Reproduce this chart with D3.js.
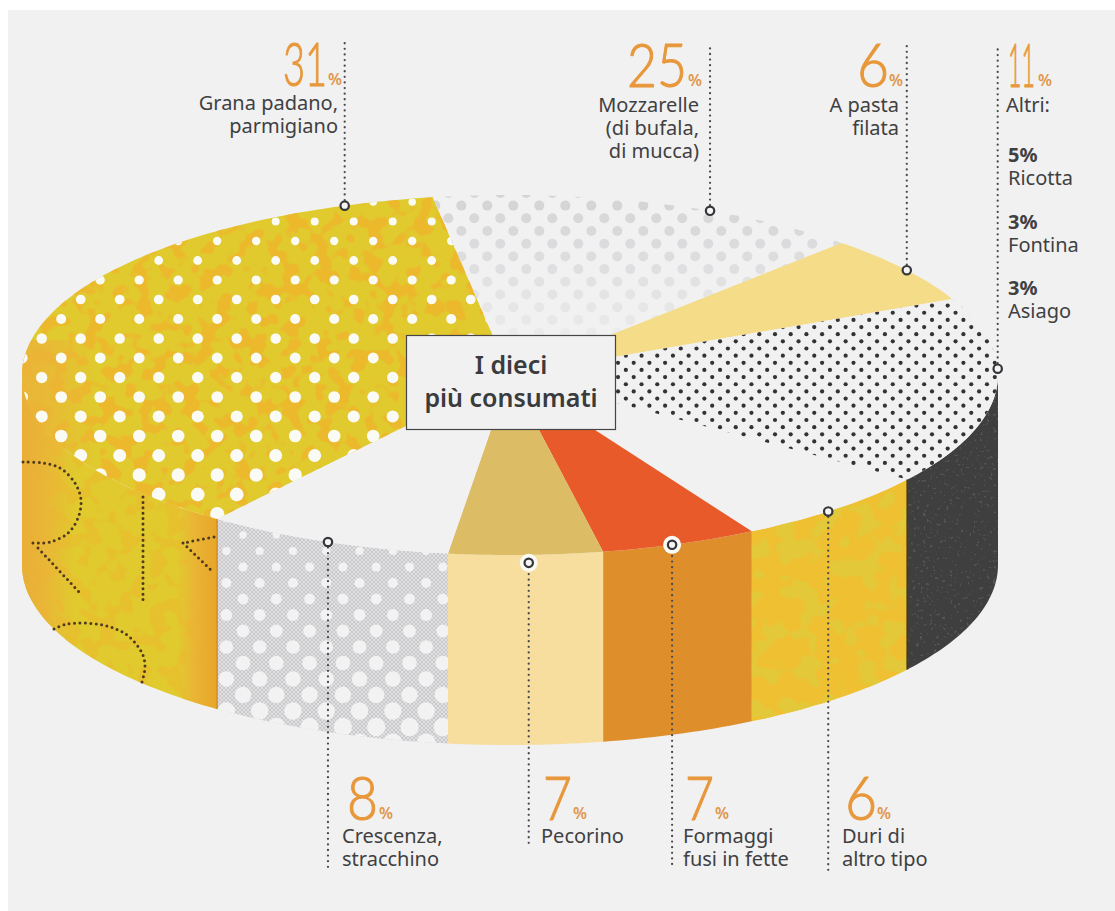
<!DOCTYPE html>
<html><head><meta charset="utf-8">
<script src="https://cdn.jsdelivr.net/npm/d3@7/dist/d3.min.js"></script>
<style>html,body{margin:0;padding:0;background:#fff;overflow:hidden}svg{display:block}
text{font-family:"Noto Sans",sans-serif}</style></head><body><div id="c"></div>
<script>
// ---------- data ----------
const categories = ["Grana padano, parmigiano","Mozzarelle (di bufala, di mucca)","A pasta filata","Altri","Duri di altro tipo","Formaggi fusi in fette","Pecorino","Crescenza, stracchino"];
const shares = [31,25,6,11,6,7,7,8];
const otherNames = ["Ricotta","Fontina","Asiago"];
const otherShares = [5,3,3];
const centreTitle = ["I dieci","più consumati"];
const labelLines = [["Grana padano,","parmigiano"],["Mozzarelle","(di bufala,","di mucca)"],["A pasta","filata"],["Altri:"],["Duri di","altro tipo"],["Formaggi","fusi in fette"],["Pecorino"],["Crescenza,","stracchino"]];

// ---------- layout ----------
const W=1115,H=911, cx=510, cy=375, rx=488, ry=180, depth=190;
// the drawing is not to scale: rim position (degrees clockwise from the back) of each slice boundary
const rimBoundaries=[216.9,350.9,402.8,425,485.5,510.3,529,547.3,576.9];
const topFill=["#e0ca2e","#f1f1f1","#f5dc88","#f1f1f1","#f1f1f1","#e85a2a","#dcbd66","#f1f1f1"];
const sideFill=["#e0ca2e",null,null,"#403f3f","#efc132","#de8f2c","#f7dd9e","url(#greyStipple)"];
// leader: rim angle of the ring marker, y-end of the dotted line, label placement
const leaders=[
 {a:340.2,end:43, num:{x:283,w:44,y:86},pct:328,lines:{anchor:"end",x:338,y:110}},
 {a:384.2,end:45, num:{x:627,w:60,y:87},pct:688,lines:{anchor:"end",x:699,y:112}},
 {a:414.4,end:45, num:{x:857,w:32,y:87},pct:889,lines:{anchor:"end",x:899,y:112}},
 {a:448,  end:45, num:{x:1008,w:27,y:87},pct:1038,lines:{anchor:"start",x:1006,y:112}},
 {a:499.3,end:871,num:{x:845,w:32,y:820},pct:877,lines:{anchor:"start",x:842,y:843}},
 {a:520.6,end:868,num:{x:685,w:29,y:820},pct:715,lines:{anchor:"start",x:683,y:843}},
 {a:537.8,end:845,num:{x:543,w:29,y:820},pct:573,lines:{anchor:"start",x:541,y:843},dy:8,halo:1},
 {a:561.9,end:868,num:{x:347,w:31,y:820},pct:379,lines:{anchor:"start",x:342,y:843}}
];
leaders[5].halo=1;

const svg=d3.select("#c").append("svg").attr("width",W).attr("height",H);
svg.append("rect").attr("width",W).attr("height",H).attr("fill","#fff");
svg.append("rect").attr("x",8).attr("y",10).attr("width",W-8).attr("height",H-10).attr("fill","#f1f1f1");

const defs=svg.append("defs");
const mot=(id,seed,col,freq,lo,thr)=>{const f=defs.append("filter").attr("id",id).attr("x",0).attr("y",0).attr("width","100%").attr("height","100%").attr("color-interpolation-filters","sRGB");
 f.append("feTurbulence").attr("type","fractalNoise").attr("baseFrequency",freq).attr("numOctaves",2).attr("seed",seed).attr("result","n");
 f.append("feColorMatrix").attr("in","n").attr("type","matrix").attr("values",`0 0 0 0 0 0 0 0 0 0 0 0 0 0 0 ${lo} 0 0 0 ${(-lo*thr)}`).attr("result","a");
 f.append("feFlood").attr("flood-color",col);
 f.append("feComposite").attr("in2","a").attr("operator","in");};
mot("blotch",7,"#efb52e",0.06,14,0.52);
mot("blotchY",11,"#dfca3c",0.05,14,0.52);
mot("speck",3,"#77766f",0.3,16,0.66);
const gs=defs.append("pattern").attr("id","greyStipple").attr("width",4).attr("height",4).attr("patternUnits","userSpaceOnUse");
gs.append("rect").attr("width",4).attr("height",4).attr("fill","#e1e1e3");
[[0,0],[4,0],[0,4],[4,4],[2,2]].forEach(p=>gs.append("circle").attr("cx",p[0]).attr("cy",p[1]).attr("r",1).attr("fill","#c2c2c4"));
const edgeGrad=defs.append("linearGradient").attr("id","granaEdge").attr("gradientUnits","userSpaceOnUse").attr("x1",22).attr("x2",217).attr("y1",0).attr("y2",0);
[[0,"#e9ae38",1],[.12,"#ebb338",.85],[.27,"#ebb338",0],[.8,"#ebb338",0],[.88,"#ecb234",.85],[1,"#e6a52a",1]].forEach(s=>edgeGrad.append("stop").attr("offset",s[0]).attr("stop-color",s[1]).attr("stop-opacity",s[2]));
const topGrad=defs.append("linearGradient").attr("id","granaTopEdge").attr("gradientUnits","userSpaceOnUse").attr("x1",22).attr("x2",95).attr("y1",0).attr("y2",0);
[[0,"#ebb338",.9],[.35,"#ebb338",.7],[1,"#ebb338",0]].forEach(s=>topGrad.append("stop").attr("offset",s[0]).attr("stop-color",s[1]).attr("stop-opacity",s[2]));

// ---------- scales ----------
const arcs=d3.pie().sort(null).value(d=>d)(shares);
const rim=d3.scaleLinear().domain(arcs.map(a=>a.startAngle).concat(Math.PI*2)).range(rimBoundaries);
const xOf=d=>cx+rx*Math.sin(d*Math.PI/180), yOf=d=>cy-ry*Math.cos(d*Math.PI/180);
const sweep=(a,b)=>{const n=Math.ceil(Math.abs(b-a));return d3.range(n+1).map(i=>a+(b-a)*i/n);};
const line=d3.line();
const topPath=(a,b)=>line([[cx,cy],...sweep(a,b).map(t=>[xOf(t),yOf(t)])])+"Z";
const sidePath=(a,b)=>{const pts=sweep(a,b);return line([...pts.map(t=>[xOf(t),yOf(t)]),...pts.slice().reverse().map(t=>[xOf(t),yOf(t)+depth])])+"Z";};
const frontSpan=(a,b)=>{for(const [l,h] of [[90,270],[450,630]]){const s=Math.max(a,l),e=Math.min(b,h);if(e>s)return [s,e];}return null;};
const slices=arcs.map((a,i)=>({i,a0:rim(a.startAngle),a1:rim(a.endAngle)}));

// clip paths
slices.forEach(s=>{
 defs.append("clipPath").attr("id","top"+s.i).append("path").attr("d",topPath(s.a0,s.a1));
 const f=frontSpan(s.a0,s.a1);
 if(f)defs.append("clipPath").attr("id","side"+s.i).append("path").attr("d",sidePath(f[0],f[1]));
});

// ---------- sides ----------
slices.forEach(s=>{const f=frontSpan(s.a0,s.a1);if(!f)return;
 svg.append("path").attr("d",sidePath(f[0],f[1])).attr("fill",sideFill[s.i]);});
// ---------- tops ----------
slices.forEach(s=>{svg.append("path").attr("d",topPath(s.a0,s.a1)).attr("fill",topFill[s.i]);});

// texture helpers
const blotchOn=(clip,id,op)=>svg.append("g").attr("clip-path",`url(#${clip})`).append("rect").attr("width",W).attr("height",H).attr("filter",`url(#${id})`).attr("opacity",op);
blotchOn("top0","blotch",.8);blotchOn("side0","blotch",.45);blotchOn("side4","blotchY",.75);blotchOn("side3","speck",.4);

// Grana: left and right orange zones
svg.append("g").attr("clip-path","url(#side0)").append("rect").attr("x",22).attr("y",375).attr("width",196).attr("height",400).attr("fill","url(#granaEdge)");
svg.append("g").attr("clip-path","url(#top0)").append("rect").attr("x",22).attr("y",340).attr("width",80).attr("height",225).attr("fill","url(#granaTopEdge)");

// staggered dot grid used by the printed screens
const grid=(x0,y0,dx,dy,xr,yr)=>{const out=[];const k0=Math.floor((yr[0]-y0)/dy),k1=Math.ceil((yr[1]-y0)/dy);
 for(let k=k0;k<=k1;k++){const y=y0+k*dy,off=((k%2)+2)%2?dx/2:0;const j0=Math.floor((xr[0]-x0)/dx)-1,j1=Math.ceil((xr[1]-x0)/dx)+1;
  for(let j=j0;j<=j1;j++)out.push([x0+j*dx+off,y]);}return out;};

const rG=d3.scaleLinear().domain([222,505]).range([4,7]);
svg.append("g").attr("clip-path","url(#top0)").selectAll("circle").data(grid(41.7,416.5,39,19.5,[20,510],[190,560])).join("circle")
 .attr("cx",d=>d[0]).attr("cy",d=>d[1]).attr("r",d=>rG(d[1])).attr("fill","#fbfbf5");
const opM=d3.scaleLinear().domain([205,335]).range([.95,.2]).clamp(true);
svg.append("g").attr("clip-path","url(#top1)").selectAll("circle").data(grid(448.3,218.3,26,12.7,[430,860],[190,380])).join("circle")
 .attr("cx",d=>d[0]).attr("cy",d=>d[1]).attr("r",5).attr("fill","#d3d3d5").attr("opacity",d=>opM(d[1]));
svg.append("g").attr("clip-path","url(#top3)").selectAll("circle").data(grid(759.3,420,15.7,7.15,[600,1000],[290,490])).join("circle")
 .attr("cx",d=>d[0]).attr("cy",d=>d[1]).attr("r",2.1).attr("fill","#333335");
const rC=d3.scaleLinear().domain([530,740]).range([3.5,9.5]);
svg.append("g").attr("clip-path","url(#side7)").selectAll("circle").data(grid(243,631,33.3,16,[215,450],[520,760])).join("circle")
 .attr("cx",d=>d[0]).attr("cy",d=>d[1]).attr("r",d=>rC(d[1])).attr("fill","#f2f2f3");

// edges between sides
[[rimBoundaries[0],"#d5951f"],[rimBoundaries[4],"#4a3a1c"]].forEach(([t,c])=>svg.append("line").attr("x1",xOf(t)).attr("x2",xOf(t)).attr("y1",yOf(t)).attr("y2",yOf(t)+depth).attr("stroke",c).attr("stroke-width",1.8));

// dotted lettering on the Grana side
const curve=d3.line().curve(d3.curveCatmullRom);
const scribbles=[
 [[23,462],[43,463],[60,468],[75,483],[81,500],[78,518],[68,533],[50,542],[31,543]],
 [[38,548],[80,593]],[[143,497],[143,600]],[[214,537],[183,543]],[[183,543],[214,573]],
 [[54,629],[67,624],[103,625],[127,635],[142,653],[145,667],[142,682]]];
svg.append("g").selectAll("path").data(scribbles).join("path").attr("d",d=>curve(d)).attr("fill","none")
 .attr("stroke","#4e3a1e").attr("stroke-width",3).attr("stroke-linecap","round").attr("stroke-dasharray","0 5.4");

// ---------- leaders ----------
leaders.forEach((l,i)=>{
 const x=xOf(l.a),y=yOf(l.a)+(l.dy||0);
 svg.append("line").attr("x1",x).attr("x2",x).attr("y1",y).attr("y2",l.end)
  .attr("stroke","#4b4b4d").attr("stroke-width",2.3).attr("stroke-linecap","round").attr("stroke-dasharray","0 5.6");
 if(l.halo)svg.append("circle").attr("cx",x).attr("cy",y).attr("r",9).attr("fill","#fbfbf6");
 svg.append("circle").attr("cx",x).attr("cy",y).attr("r",4.2).attr("fill","#f5f5f5").attr("stroke","#36363a").attr("stroke-width",2.2);
});

// ---------- numbers and labels ----------
const ink="#3f4042", fs=20, lh=22.8;
leaders.forEach((l,i)=>{
 svg.append("text").attr("x",l.num.x).attr("y",l.num.y).text(shares[i])
  .attr("font-size",61).attr("fill","#e8973a").attr("stroke","#e8973a").attr("stroke-width",1.1).attr("textLength",l.num.w).attr("lengthAdjust","spacingAndGlyphs")
  .style("font-family","Lato").style("font-weight",300);
 svg.append("text").attr("x",l.pct).attr("y",l.num.y-1).text("%")
  .attr("font-size",16).attr("fill","#e0964a").attr("textLength",14).attr("lengthAdjust","spacingAndGlyphs").style("font-weight",600);
 labelLines[i].forEach((t,k)=>svg.append("text").attr("x",l.lines.x).attr("y",l.lines.y+k*lh).attr("text-anchor",l.lines.anchor)
  .attr("font-size",fs).attr("fill",ink).text(t));
});
// the "Altri" breakdown
const otherY=[162,229,295];
otherShares.forEach((v,i)=>{
 svg.append("text").attr("x",1008).attr("y",otherY[i]).attr("font-size",fs).attr("font-weight",700).attr("fill",ink).text(v+"%");
 svg.append("text").attr("x",1008).attr("y",otherY[i]+23).attr("font-size",fs).attr("fill",ink).text(otherNames[i]);
});

// ---------- centre box ----------
svg.append("rect").attr("x",406.5).attr("y",335.5).attr("width",209).attr("height",94).attr("fill","#f1f1f1").attr("stroke","#454547").attr("stroke-width",1.2);
centreTitle.forEach((t,i)=>svg.append("text").attr("x",511).attr("y",374+i*33).attr("text-anchor","middle")
 .attr("font-size",25).attr("font-weight",600).attr("fill","#3a3b3d").text(t));
</script></body></html>
